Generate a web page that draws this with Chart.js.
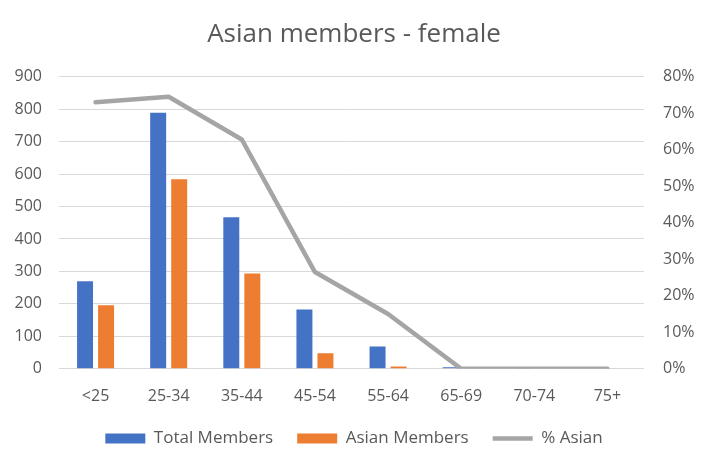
<!DOCTYPE html>
<html>
<head>
<meta charset="utf-8">
<script src="https://cdn.jsdelivr.net/npm/chart.js@4"></script>
<style>
html,body{margin:0;padding:0;background:#fff;}
#wrap{width:708px;height:465px;position:relative;}
</style>
</head>
<body>
<div id="wrap"><canvas id="c" width="708" height="465"></canvas></div>
<script>
const categories = ['<25','25-34','35-44','45-54','55-64','65-69','70-74','75+'];
const totalMembers = [270, 789, 467, 183, 69, 5, 5, 0];
const asianMembers = [196, 584, 294, 48, 7, 0, 0, 0];
const pctAsian = [0.73, 0.745, 0.628, 0.265, 0.15, 0, 0, 0];
const leftTicks = [0,100,200,300,400,500,600,700,800,900];
const rightTicks = [0,0.1,0.2,0.3,0.4,0.5,0.6,0.7,0.8];

const FONT = "'Open Sans', 'Noto Sans', sans-serif";
const TXT = '#595959';

new Chart(document.getElementById('c'), {
  data: {
    labels: categories,
    datasets: [
      { type:'line', label:'% Asian', data: pctAsian, yAxisID:'y1',
        borderColor:'#A5A5A5', backgroundColor:'#A5A5A5', borderWidth:4.5,
        pointRadius:0, borderCapStyle:'round', borderJoinStyle:'round', order:-1, tension:0 },
      { type:'bar', label:'Total Members', data: totalMembers, yAxisID:'y',
        backgroundColor:'#4472C4', borderWidth:0, categoryPercentage:0.575, barPercentage:0.76, order:1 },
      { type:'bar', label:'Asian Members', data: asianMembers, yAxisID:'y',
        backgroundColor:'#ED7D31', borderWidth:0, categoryPercentage:0.575, barPercentage:0.76, order:1 }
    ]
  },
  options: {
    responsive:false, animation:false,
    layout:{ padding:{left:0,right:0,top:0,bottom:8} },
    plugins:{
      title:{ display:true, text:'Asian members - female', color:TXT,
        font:{family:FONT, size:26, weight:'normal'}, padding:{top:19,bottom:26.5} },
      legend:{ position:'bottom',
        labels:{ color:TXT, font:{family:FONT, size:17}, usePointStyle:true, pointStyleWidth:40,
          boxWidth:40, boxHeight:10, padding:24,
          sort:(a,b)=>{ const o=[1,2,0]; return o.indexOf(a.datasetIndex)-o.indexOf(b.datasetIndex); },
          generateLabels:(chart)=>{
            const items = Chart.defaults.plugins.legend.labels.generateLabels(chart);
            items.forEach(it=>{ it.pointStyle = it.datasetIndex===0 ? 'line' : 'rect'; });
            return items;
          }
        } },
      tooltip:{enabled:false}
    },
    scales:{
      x:{ grid:{display:false}, border:{display:false},
        afterFit:(s)=>{ s.height = s.height - 10; },
        ticks:{color:TXT, font:{family:FONT,size:16}, padding:10} },
      y:{ position:'left', min:0, max:900,
        afterFit:(s)=>{ s.width = 59; },
        afterBuildTicks:(s)=>{ s.ticks = leftTicks.map(v=>({value:v})); },
        grid:{color:'#D9D9D9', lineWidth:1, drawTicks:false}, border:{display:false},
        ticks:{color:TXT, font:{family:FONT,size:16}, padding:17} },
      y1:{ position:'right', min:0, max:0.8,
        afterFit:(s)=>{ s.width = 64; },
        afterBuildTicks:(s)=>{ s.ticks = rightTicks.map(v=>({value:v})); },
        grid:{display:false, drawTicks:false}, border:{display:false},
        ticks:{color:TXT, font:{family:FONT,size:16}, padding:19, crossAlign:'near',
          callback:(v)=>Math.round(v*100)+'%'} }
    }
  }
});
</script>
</body>
</html>
